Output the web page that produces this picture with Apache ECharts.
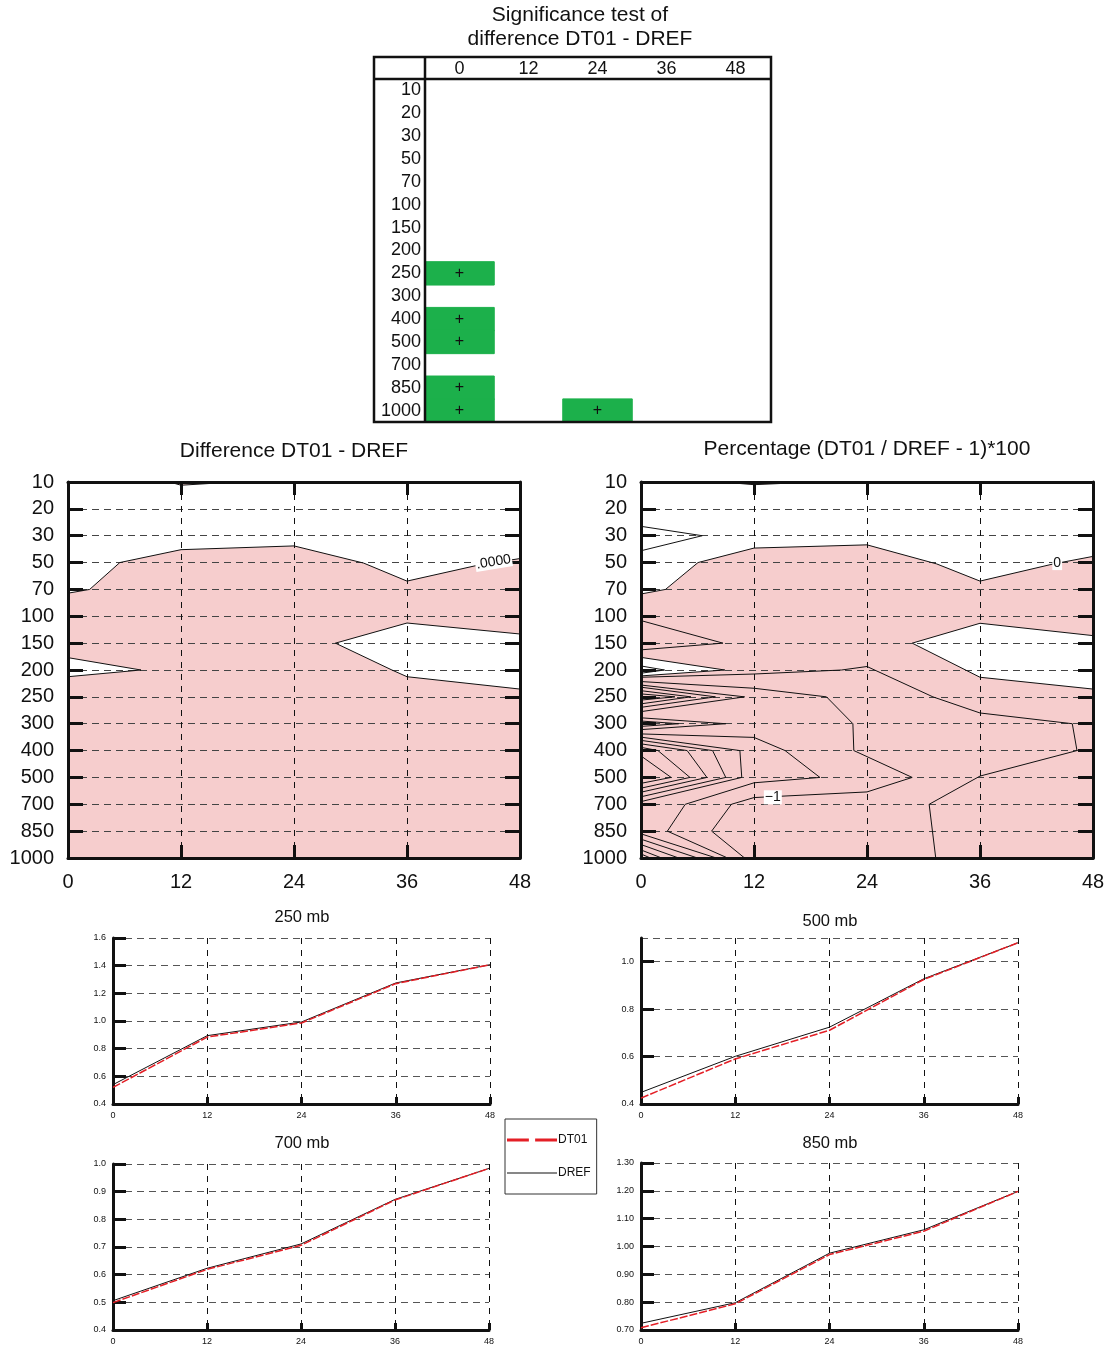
<!DOCTYPE html>
<html><head><meta charset="utf-8">
<script src="https://cdn.jsdelivr.net/npm/echarts@6/dist/echarts.min.js"></script>
<style>html,body{margin:0;padding:0;background:#fff}#c{width:1111px;height:1348px}</style>
</head><body><div id="c"></div>
<script>
// ---------- data ----------
const hours = ['0','12','24','36','48'];
const levels = ['10','20','30','50','70','100','150','200','250','300','400','500','700','850','1000'];
// significance table: cells flagged "+"
const sigHours  = ['0','0','0','0','0','24'];
const sigLevels = ['250','400','500','850','1000','1000'];

// contour outlines, points are [lead hour, level index]
const diffNegTop = [[0,4.14],[2.3,4.0],[5.5,3.0],[12,2.52],[24,2.38],[31.4,3.02],[36,3.69],[43.5,3.1],[48,2.85]];
const diffNegSliver = [[10.8,0],[12,0.12],[17.6,0]];
const diffHoleRight = [[48,5.66],[36,5.25],[28.4,6.0],[34.4,7.0],[36,7.25],[48,7.71]];
const diffHoleLeft = [[0,6.54],[7.75,7.0],[0,7.25]];

const pctNegTop = [[0,4.17],[2.6,4.0],[6.05,3.0],[12,2.46],[24,2.34],[31.4,3.05],[36,3.69],[43.8,3.05],[48,2.77]];
const pctNegSliver = [[8.6,0],[12,0.1],[18.4,0]];
const pctHoleRight = [[48,5.72],[36,5.26],[28.8,6.0],[36,7.27],[48,7.71]];
const pctHoleLeft = [[0,6.53],[8.9,7.0],[0,7.22]];
const pctHoleLeftInner = [[0,6.85],[2.5,7.0],[0,7.12]];
const pctWedge30 = [[0,1.65],[6.5,2.0],[0,2.56]];
const pctWedge150 = [[0,5.16],[8.7,6.0],[0,6.25]];
const pctLineA = [[0,7.27],[12,7.15],[21.3,7.0],[24,6.87],[31,8.0],[36,8.6],[45.8,9.0],[46.3,10.0],[36,10.95],[30.6,12.0],[31.3,14]];
const pctLineM1 = [[0,7.43],[12,7.68],[19.7,8.0],[22.5,9.0],[22.6,10.0],[28.8,11.0],[24,11.54],[12,11.75],[9.6,12.0],[7.5,13.0],[11,14]];
const pctLineB = [[0,9.38],[12,9.51],[15.3,10.0],[19.0,11.0],[12,11.2],[4.7,12.0],[2.8,13.0],[9.2,14]];
const pctWedges250 = [
  [[0,7.56],[11.0,8.0],[0,8.55]],
  [[0,7.64],[7.9,8.0],[0,8.39]],
  [[0,7.77],[5.3,8.0],[0,8.26]],
  [[0,7.89],[3.6,8.0],[0,8.12]]
];
const pctWedges300 = [
  [[0,8.78],[9.0,9.0],[0,9.22]],
  [[0,8.9],[4.0,9.0],[0,9.1]]
];
const pctWedges500 = [
  [[0,9.5],[10.5,10],[10.7,11],[0,11.9]],
  [[0,9.62],[7.6,10],[9.0,11],[0,11.72]],
  [[0,9.75],[4.9,10],[7.0,11],[0,11.55]],
  [[0,9.88],[1.8,10],[5.2,11],[0,11.4]],
  [[0,10.2],[3.2,11],[0,11.22]]
];
const pctFan1000 = [
  [[0,13.1],[8,14]],
  [[0,13.3],[6,14]],
  [[0,13.5],[4,14]],
  [[0,13.7],[2.2,14]],
  [[0,13.85],[1,14]]
];

// line panels
const leadHours = [0,12,24,36,48];
const dt01_250 = [0.520,0.884,0.986,1.270,1.407];
const dref_250 = [0.540,0.894,0.993,1.275,1.407];
const dt01_500 = [0.425,0.590,0.711,0.925,1.080];
const dref_500 = [0.449,0.601,0.724,0.928,1.080];
const dt01_700 = [0.499,0.619,0.706,0.870,0.984];
const dref_700 = [0.506,0.623,0.711,0.872,0.984];
const dt01_850 = [0.708,0.794,0.971,1.055,1.198];
const dref_850 = [0.724,0.798,0.976,1.060,1.198];

// ---------- helpers ----------
const FONT = '"Liberation Sans", Arial, Helvetica, sans-serif';
const PINK = '#f6cdcd';
const GREEN = '#1cb04b';
const RED = '#e41f26';

const xAxes = [], yAxes = [], series = [];

function toPts(api, arr){ return arr.map(p => api.coord(p)); }
function polyFill(api, arr, fill){ return {type:'polygon', shape:{points:toPts(api,arr)}, style:{fill:fill, stroke:'none'}}; }
function polyLine(api, arr){ return {type:'polyline', shape:{points:toPts(api,arr)}, style:{stroke:'#111', lineWidth:1, fill:'none'}}; }
function labelEl(api, p, text, rot){
  const c = api.coord(p);
  return {type:'text', x:c[0], y:c[1], rotation:rot||0,
    style:{text:text, fill:'#111', font:'14px '+FONT, align:'center', verticalAlign:'middle', backgroundColor:'#fff', padding:[0,1]}};
}
function customSeries(axisIdx, z, build){
  return {type:'custom', coordinateSystem:'cartesian2d', xAxisIndex:axisIdx, yAxisIndex:axisIdx, z:z, silent:true, clip:true,
    data:[[0,0]], renderItem:(params, api) => ({type:'group', children: build(api)})};
}

function addContourAxes(gridIndex){
  const line = {show:true, onZero:false, lineStyle:{color:'#111', width:3}};
  const xt = {show:true, inside:true, length:13, lineStyle:{color:'#111', width:3}};
  const yt = {show:true, inside:true, length:15, lineStyle:{color:'#111', width:3}};
  const xi = xAxes.length;
  xAxes.push({gridIndex, type:'value', min:0, max:48, interval:12, position:'bottom', axisLine:line, axisTick:xt,
    axisLabel:{fontSize:20, margin:14, color:'#111', fontFamily:FONT},
    splitLine:{show:true, lineStyle:{color:'#111', width:1, type:[6,6]}}});
  xAxes.push({gridIndex, type:'value', min:0, max:48, interval:12, position:'top', axisLine:line, axisTick:xt,
    axisLabel:{show:false}, splitLine:{show:false}});
  yAxes.push({gridIndex, type:'value', min:0, max:14, interval:1, inverse:true, position:'left', axisLine:line, axisTick:yt,
    axisLabel:{fontSize:20, margin:14, color:'#111', fontFamily:FONT, padding:[2,0,0,0], formatter:v => levels[Math.round(v)]},
    splitLine:{show:true, lineStyle:{color:'#444', width:1, type:[7,5]}}});
  yAxes.push({gridIndex, type:'value', min:0, max:14, interval:1, inverse:true, position:'right', axisLine:line, axisTick:yt,
    axisLabel:{show:false}, splitLine:{show:false}});
  return xi; // index of bottom x axis == index of left y axis
}

function addLinePanel(gridIndex, ymin, ymax, yint, dec, dt01, dref, hideMax){
  xAxes.push({gridIndex, type:'value', min:0, max:48, interval:12,
    axisLine:{show:true, onZero:false, lineStyle:{color:'#111', width:3}},
    axisTick:{show:true, inside:true, length:7, lineStyle:{color:'#111', width:3}},
    axisLabel:{fontSize:9, margin:7, color:'#111', fontFamily:FONT},
    splitLine:{show:true, lineStyle:{color:'#111', width:1, type:[6,6]}}});
  yAxes.push({gridIndex, type:'value', min:ymin, max:ymax, interval:yint,
    axisLine:{show:true, onZero:false, lineStyle:{color:'#111', width:3}},
    axisTick:{show:true, inside:true, length:13, lineStyle:{color:'#111', width:3}},
    axisLabel:{fontSize:9, margin:7, color:'#111', fontFamily:FONT, showMaxLabel: !hideMax, formatter:v => v.toFixed(dec)},
    splitLine:{show:true, lineStyle:{color:'#555', width:1, type:[7,5]}}});
  const ai = xAxes.length - 1;
  series.push({type:'line', name:'DREF', xAxisIndex:ai, yAxisIndex:ai, symbol:'none', z:3,
    data: leadHours.map((h,i)=>[h, dref[i]]), lineStyle:{color:'#111', width:1}, itemStyle:{color:'#111'}});
  series.push({type:'line', name:'DT01', xAxisIndex:ai, yAxisIndex:ai, symbol:'none', z:4,
    data: leadHours.map((h,i)=>[h, dt01[i]]), lineStyle:{color:RED, width:1.5, type:[8,2]}, itemStyle:{color:RED}});
}

// ---------- grids ----------
const grids = [
  {left:425, top:79, width:345, height:343},   // significance table
  {left:68, top:482, width:452, height:376},   // difference
  {left:641, top:482, width:452, height:376},  // percentage
  {left:113, top:938, width:377, height:166},  // 250
  {left:641, top:938, width:377, height:166},  // 500
  {left:113, top:1164, width:376, height:166}, // 700
  {left:641, top:1163, width:377, height:167}  // 850
];

// table axes
xAxes.push({gridIndex:0, type:'category', data:hours, position:'top',
  axisLine:{show:false}, axisTick:{show:false}, splitLine:{show:false},
  axisLabel:{interval:0, fontSize:18, margin:1, color:'#111', fontFamily:FONT}});
yAxes.push({gridIndex:0, type:'category', data:levels, inverse:true,
  axisLine:{show:false}, axisTick:{show:false}, splitLine:{show:false},
  axisLabel:{interval:0, fontSize:18, margin:4, color:'#111', fontFamily:FONT, padding:[4,0,0,0]}});
series.push({type:'heatmap', xAxisIndex:0, yAxisIndex:0,
  data: sigHours.map((h,i)=>[h, sigLevels[i], 1]),
  label:{show:true, formatter:'+', color:'#111', fontSize:16, fontFamily:FONT},
  itemStyle:{color:GREEN, borderColor:GREEN, borderWidth:1}, emphasis:{disabled:true}});

// difference panel
const dAx = addContourAxes(1);
series.push(customSeries(dAx, -1, api => [
  polyFill(api, diffNegTop.concat([[48,14],[0,14]]), PINK),
  polyFill(api, diffNegSliver, PINK),
  polyFill(api, diffHoleRight.concat([[48,5.66]]), '#fff'),
  polyFill(api, diffHoleLeft, '#fff')
]));
series.push(customSeries(dAx, 5, api => [
  polyLine(api, diffNegTop), polyLine(api, diffNegSliver),
  polyLine(api, diffHoleRight), polyLine(api, diffHoleLeft),
  labelEl(api, [45.2,2.98], '.0000', 0.16)
]));

// percentage panel
const pAx = addContourAxes(2);
series.push(customSeries(pAx, -1, api => [
  polyFill(api, pctNegTop.concat([[48,14],[0,14]]), PINK),
  polyFill(api, pctNegSliver, PINK),
  polyFill(api, pctHoleRight, '#fff'),
  polyFill(api, pctHoleLeft, '#fff')
]));
series.push(customSeries(pAx, 5, api => {
  const els = [pctNegTop, pctNegSliver, pctHoleRight, pctHoleLeft, pctHoleLeftInner, pctWedge30, pctWedge150,
    pctLineA, pctLineM1, pctLineB].map(a => polyLine(api, a));
  pctWedges250.concat(pctWedges300, pctWedges500, pctFan1000).forEach(a => els.push(polyLine(api, a)));
  els.push(labelEl(api, [44.2,3.02], '0', 0));
  els.push(labelEl(api, [14.0,11.74], '\u22121', 0));
  return els;
}));

// line panels
addLinePanel(3, 0.4, 1.6, 0.2, 1, dt01_250, dref_250, false);
addLinePanel(4, 0.4, 1.1, 0.2, 1, dt01_500, dref_500, true);
addLinePanel(5, 0.4, 1.0, 0.1, 1, dt01_700, dref_700, false);
addLinePanel(6, 0.7, 1.3, 0.1, 2, dt01_850, dref_850, false);

const titleStyle = {fontSize:21, fontWeight:'normal', color:'#111', fontFamily:FONT};
const smallTitle = {fontSize:16.5, fontWeight:'normal', color:'#111', fontFamily:FONT};

const option = {
  animation:false,
  backgroundColor:'#fff',
  title:[
    {text:'Significance test of\ndifference DT01 - DREF', left:580, top:3, textAlign:'center', padding:0,
      textStyle:Object.assign({}, titleStyle, {lineHeight:24})},
    {text:'Difference DT01 - DREF', left:294, top:441, textAlign:'center', padding:0, textStyle:titleStyle},
    {text:'Percentage (DT01 / DREF - 1)*100', left:867, top:439, textAlign:'center', padding:0, textStyle:titleStyle},
    {text:'250 mb', left:302, top:909, textAlign:'center', padding:0, textStyle:smallTitle},
    {text:'500 mb', left:830, top:913, textAlign:'center', padding:0, textStyle:smallTitle},
    {text:'700 mb', left:302, top:1135, textAlign:'center', padding:0, textStyle:smallTitle},
    {text:'850 mb', left:830, top:1135, textAlign:'center', padding:0, textStyle:smallTitle}
  ],
  legend:{show:true, orient:'vertical', left:505, top:1119, itemWidth:50, itemHeight:12, itemGap:21,
    borderColor:'#333', borderWidth:1, padding:[15,6,15,2], selectedMode:false, symbolKeepAspect:true,
    textStyle:{fontSize:12, color:'#111', fontFamily:FONT, padding:[0,0,0,-4]},
    data:[
      {name:'DT01', icon:'path://M0,0H21V3H0Z M27,0H48V3H27Z', itemStyle:{color:RED}},
      {name:'DREF', icon:'path://M0,0H48V1H0Z', itemStyle:{color:'#111'}}
    ]},
  grid: grids.map(g => Object.assign({show:false, containLabel:false}, g)),
  xAxis:xAxes,
  yAxis:yAxes,
  visualMap:{show:false, type:'piecewise', seriesIndex:0, pieces:[{min:0, max:2, color:GREEN}]},
  series:series,
  graphic:[
    {type:'rect', shape:{x:374, y:57, width:397, height:365}, style:{fill:'none', stroke:'#111', lineWidth:2.5}, z:10},
    {type:'line', shape:{x1:374, y1:79, x2:771, y2:79}, style:{stroke:'#111', lineWidth:2.5}, z:10},
    {type:'line', shape:{x1:425, y1:57, x2:425, y2:422}, style:{stroke:'#111', lineWidth:2.5}, z:10}
  ]
};

const chart = echarts.init(document.getElementById('c'), null, {renderer:'canvas'});
chart.setOption(option);
</script>
</body></html>
